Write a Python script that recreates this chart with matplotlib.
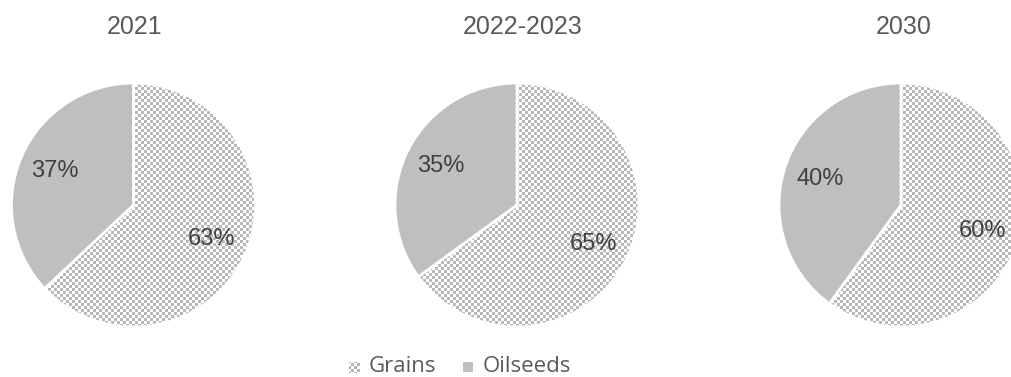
import numpy as np
import matplotlib
matplotlib.use('Agg')
import matplotlib.pyplot as plt
from matplotlib.patches import Rectangle

# data
years = ['2021', '2022-2023', '2030']
grains = [63, 65, 60]
oilseeds = [37, 35, 40]
labels = ['Grains', 'Oilseeds']

W, H = 1011, 377
fig = plt.figure(figsize=(W / 100, H / 100), dpi=100)

# pie centres in pixels (from the top left) and radius
centres_x = [133.5, 517, 901]
centre_y = 205
r = 122
title_x = [135, 523, 904]

solid_grey = '#bfbfbf'
text_grey = '#595959'

# checkerboard texture for the grains slices, 3 px squares
yy, xx = np.indices((H, W))
cell = ((yy // 3 + xx // 3) % 2 == 0)
checker = np.ones((H, W, 4))
checker[cell, :3] = 0xb8 / 255


def px_box(x0, y0, w, h):
    # rectangle given in pixels from the top left, in figure fractions
    return x0 / W, 1 - (y0 + h) / H, w / W, h / H


for i, year in enumerate(years):
    cx = centres_x[i]
    ax = fig.add_axes(px_box(cx - r, centre_y - r, 2 * r, 2 * r))
    wedges, texts, autotexts = ax.pie(
        [grains[i], oilseeds[i]], startangle=90, counterclock=False,
        colors=['none', solid_grey], radius=1,
        autopct='%.0f%%', pctdistance=0.7,
        wedgeprops=dict(edgecolor='white', linewidth=2),
        textprops=dict(fontsize=17, color='#404040', family='Liberation Sans'))
    ax.set_xlim(-1, 1)
    ax.set_ylim(-1, 1)
    ax.axis('off')

    img = fig.figimage(checker, xo=0, yo=0, origin='upper', zorder=-1)
    img.set_clip_path(wedges[0])

    fig.text(title_x[i] / W, 1 - 27 / H, year, ha='center', va='center',
             fontsize=18, color=text_grey, family='Liberation Sans')

# legend drawn by hand: a checker square for grains, a solid one for oilseeds
marker_x = [349, 463]
text_x = [369, 483]
legend_y = 367
for j, lab in enumerate(labels):
    x0, y0, w, h = px_box(marker_x[j], legend_y - 5, 10, 10)
    if j == 0:
        box = Rectangle((x0, y0), w, h, transform=fig.transFigure,
                        facecolor='none', edgecolor='none')
        fig.patches.append(box)
        img = fig.figimage(checker, xo=0, yo=0, origin='upper', zorder=-1)
        img.set_clip_path(box)
    else:
        box = Rectangle((x0, y0), w, h, transform=fig.transFigure,
                        facecolor=solid_grey, edgecolor='none')
        fig.patches.append(box)
    fig.text(text_x[j] / W, 1 - legend_y / H, lab, ha='left', va='center',
             fontsize=16, color=text_grey, family='Open Sans')

fig.savefig('out.png', dpi=100)
